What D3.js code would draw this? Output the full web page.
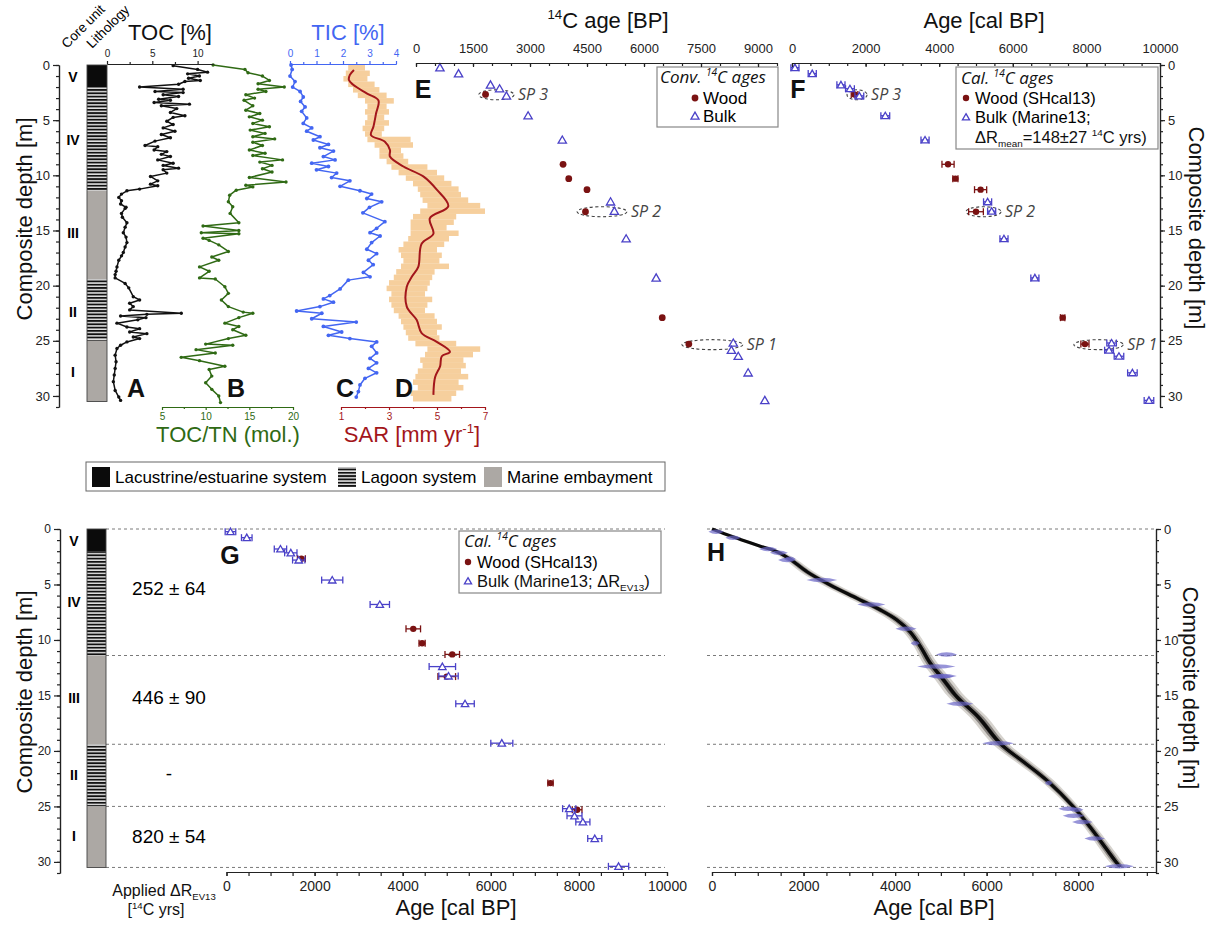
<!DOCTYPE html>
<html>
<head>
<meta charset="utf-8">
<script src="https://cdn.jsdelivr.net/npm/d3@7"></script>
<style>
  body { margin: 0; background: #fff; }
  svg { font-family: "Liberation Sans", Arial, Helvetica, sans-serif; }
</style>
</head>
<body>
<svg id="fig" width="1219" height="925"></svg>
<script>
// ---------------- Core units and lithology ----------------
const lithTop  = [0, 2.0, 11.4, 19.4, 25.0];
const lithBase = [2.0, 11.4, 19.4, 25.0, 30.5];
const lithType = ["lac", "lag", "mar", "lag", "mar"];
const unitNames = ["V", "IV", "III", "II", "I"];
const unitLabelDepthTop = [1.1, 6.8, 15.2, 22.4, 27.8];
const unitLabelDepthBot = [1.1, 6.6, 15.2, 22.2, 27.7];
const unitBounds = [0, 11.4, 19.4, 25.0, 30.5];
const appliedDR = ["252 ± 64", "446 ± 90", "-", "820 ± 54"];
const appliedDRDepth = [5.3, 15.1, 22.0, 27.7];

// ---------------- Geochemistry (depth in m) ----------------
const tocDepth = [0.06,0.4,0.65,0.8,1.0,1.2,1.4,1.5,1.75,2.0,2.2,2.4,2.5,2.7,2.85,3.1,3.2,3.4,3.55,3.7,3.95,4.3,4.6,4.75,5.1,5.4,5.7,6.0,6.3,6.6,6.9,7.3,7.4,7.7,7.85,8.1,8.3,8.6,8.9,9.1,9.35,9.5,9.8,10.1,10.5,10.8,10.95,11.25,11.4,11.7,12.0,12.3,12.6,12.9,13.0,13.45,13.8,14.3,14.7,15.2,15.6,16.1,16.5,17.0,17.3,17.7,18.3,18.7,19.0,19.3,19.8,20.2,21.0,21.3,21.6,21.9,22.2,22.5,22.6,22.75,22.9,23.1,23.4,23.75,23.9,24.2,24.35,24.65,24.8,25.1,25.4,25.7,26.3,26.9,27.5,28.1,28.7,29.5,30.1,30.4];
const tocValue = [7.3,10.0,11.1,8.9,10.2,9.0,10.3,8.6,7.9,3.6,8.4,5.3,8.4,6.2,7.9,5.7,7.0,5.2,9.1,6.0,7.7,7.0,8.6,7.3,6.6,7.3,6.2,7.5,6.0,7.0,5.3,4.2,5.6,5.2,6.6,6.0,7.0,5.6,7.3,6.2,7.9,6.2,6.6,4.8,5.6,4.8,5.6,3.6,2.2,1.6,1.3,1.6,1.5,2.1,2.0,1.6,1.7,2.2,2.0,1.8,2.1,2.2,2.0,1.8,1.6,1.3,1.1,1.0,0.9,0.9,2.0,2.4,2.9,3.6,2.5,2.9,2.5,8.2,4.4,1.5,4.3,3.4,1.1,2.2,3.6,2.5,4.4,2.9,3.6,2.2,1.5,1.1,0.9,1.0,0.9,0.8,0.7,0.9,1.3,1.5];

const cnDepth = [0,0.4,0.7,1.0,1.4,1.7,2.0,2.2,2.4,2.7,3.0,3.2,3.7,4.1,4.4,4.7,5.0,5.3,5.6,5.9,6.2,6.5,6.7,7.0,7.3,7.7,8.0,8.2,8.6,8.8,9.1,9.4,9.7,10.2,10.6,10.9,11.05,11.35,11.8,12.4,12.85,13.45,14.3,14.6,15.0,15.2,15.3,15.7,15.9,16.3,16.9,17.4,17.7,18.3,18.7,19.3,19.4,20.1,20.7,21.3,21.9,22.4,22.5,22.9,23.4,23.7,24.0,24.5,24.8,25.3,25.4,25.8,26.1,26.5,26.8,27.3,27.6,28.2,28.8,29.4,30.0,30.6];
const cnValue = [10.85,14.5,14.85,16.5,17.3,16.0,19.0,16.0,16.9,14.6,15.6,14.4,15.4,14.6,16.2,15.0,16.5,15.4,17.3,15.1,16.8,15.4,17.9,15.4,16.5,15.0,16.8,15.4,18.8,16.2,17.6,16.5,17.6,15.0,19.2,14.6,15.4,13.5,12.75,12.6,13.1,12.8,13.8,9.7,13.8,9.5,13.8,9.7,10.4,11.5,12.6,10.7,11.5,9.3,10.4,9.3,11.1,12.2,12.6,11.8,12.6,14.3,15.4,13.8,12.2,13.8,13.1,14.6,12.6,10.0,13.1,8.9,11.1,7.2,9.3,12.2,10.4,10.7,10.0,10.7,11.5,11.7];

const ticDepth = [0,0.4,1.0,1.5,2.0,2.4,2.9,3.3,3.8,4.2,4.8,5.3,5.7,6.0,6.5,6.8,7.2,7.5,7.8,8.3,8.6,8.9,9.2,9.5,9.8,10.2,10.5,11.0,11.4,11.7,12.1,12.4,12.9,13.4,14.2,14.8,15.2,15.5,16.1,16.7,17.1,17.7,18.1,18.8,19.2,19.5,20.3,20.9,21.2,21.5,21.9,22.3,22.5,23.0,23.3,23.7,24.2,24.5,24.8,25.1,25.5,26.1,26.6,27.0,27.5,27.9,28.4,29.0,29.6,30.1];
const ticValue = [0.04,0.08,0.0,0.19,0.1,0.38,0.5,0.4,0.57,0.44,0.63,0.5,0.82,0.63,1.13,0.88,1.45,1.13,1.64,1.26,1.7,0.82,1.45,1.0,1.76,1.57,2.26,1.89,2.64,3.08,2.9,3.46,3.0,2.75,3.58,3.27,3.02,3.4,3.08,2.9,3.27,2.96,3.14,2.77,3.02,2.2,1.89,1.5,1.26,1.64,1.13,0.25,1.2,0.82,2.5,1.26,1.95,1.45,2.26,3.27,3.08,3.27,3.02,3.27,2.96,3.27,2.83,2.64,2.58,2.5];

// Sediment accumulation rate: running median and per-interval range
const sarDepth = [0.45,0.9,1.36,1.8,2.57,3.2,4.4,5.6,6.35,6.95,7.7,8.3,9.2,10.1,11.3,12.8,13.9,15.3,16.2,18.3,19.2,20.1,21.9,23.1,24.3,25.1,26.0,26.4,27.3,28.3,29.9];
const sarMedian = [1.54,1.37,1.33,1.51,2.07,2.56,2.46,2.35,2.25,2.83,3.04,3.04,3.6,4.43,4.99,5.47,4.7,4.85,4.36,4.22,3.95,3.74,3.74,4.15,4.36,4.99,5.54,5.2,5.13,4.92,4.85];
const sarRangeDepth = [0.25,0.75,1.25,1.75,2.25,2.75,3.25,3.75,4.25,4.75,5.25,5.75,6.25,6.75,7.25,7.75,8.25,8.75,9.25,9.75,10.25,10.75,11.25,11.75,12.25,12.75,13.25,13.75,14.25,14.75,15.25,15.75,16.25,16.75,17.25,17.75,18.25,18.75,19.25,19.75,20.25,20.75,21.25,21.75,22.25,22.75,23.25,23.75,24.25,24.75,25.25,25.75,26.25,26.75,27.25,27.75,28.25,28.75,29.25,29.75,30.25];
const sarLow  = [1.3,1.2,1.1,1.3,1.5,1.7,2.0,2.1,2.0,2.1,2.0,1.9,2.0,2.1,2.4,2.6,2.6,2.9,3.1,3.4,3.7,4.0,4.2,4.3,4.4,4.6,4.3,4.0,3.9,3.9,3.9,3.8,3.6,3.4,3.5,3.6,3.5,3.3,3.2,3.0,2.9,3.1,3.0,3.1,3.2,3.4,3.5,3.6,3.7,3.8,4.1,4.6,4.5,4.3,4.4,4.2,4.1,4.0,4.2,3.9,4.0];
const sarHigh = [2.0,2.2,2.1,2.4,2.6,2.9,3.2,2.9,3.0,2.8,3.0,2.8,2.7,3.9,4.0,3.5,3.6,3.8,4.6,5.0,5.3,5.6,5.9,6.0,6.3,6.8,7.0,5.8,5.7,5.4,5.9,5.5,5.3,5.0,5.2,5.1,5.5,4.9,4.8,4.7,4.6,4.5,4.8,4.6,4.5,4.9,5.0,5.2,5.0,5.1,5.8,6.8,6.5,6.1,6.2,6.0,6.3,5.9,6.1,5.8,5.6];

// ---------------- Radiocarbon dates ----------------
const bulkDepth   = [0.24,0.78,1.8,2.15,2.8,4.6,6.8,12.4,13.25,15.75,19.3,25.2,25.85,26.4,27.9,30.4];
const bulkConv    = [630,1120,1960,2200,2380,2950,3850,5120,5220,5530,6320,8350,8300,8480,8740,9180];
const bulkCalF    = [80,550,1330,1575,1830,2535,3615,5315,5425,5760,6600,8685,8615,8885,9250,9700];
const bulkCalFErr = [110,110,110,120,120,120,110,110,110,110,110,130,120,130,130,130];
const bulkCalG    = [90,460,1225,1460,1640,2400,3480,4900,5040,5415,6250,7780,7900,8090,8360,8900];
const bulkCalGErr = [120,120,140,140,140,240,220,300,220,210,250,150,170,160,160,230];
const woodDepth   = [2.67,9.0,10.3,11.3,13.3,22.9,25.3];
const woodConv    = [1830,3870,4020,4500,4460,6480,7180];
const woodCal     = [1700,4240,4440,5125,5000,7355,7960];
const woodCalErr  = [90,165,70,165,200,60,110];

// Sample pairs (wood vs. bulk at the same level)
const spLabel = ["SP 3", "SP 2", "SP 1"];
const spDepth = [2.7, 13.3, 25.35];
const spConvRange = [[1650, 2580], [4240, 5550], [7000, 8600]];
const spCalRange  = [[1495, 2040], [4730, 5680], [7660, 9000]];

// ---------------- Age-depth model ----------------
const modelDepth = [0,0.4,0.94,1.55,2.05,2.73,3.85,5.05,6.25,7.3,8.2,9.3,10.6,12.1,13.6,15.15,16.95,19.35,21.0,22.65,25.05,26.85,30.1,30.45];
const modelAge   = [0,255,620,1055,1420,1710,2075,2585,3170,3680,4040,4335,4555,4770,5060,5355,5820,6300,6810,7315,7900,8260,8845,8920];
const modelErr   = [20,60,90,110,120,130,150,170,180,180,170,150,140,160,180,190,190,180,170,150,120,130,140,120];

// ---------------- Tick values ----------------
const depthMajor = [0,5,10,15,20,25,30];
const depthMinor = d3.range(0, 32, 1);
const convMajor = [0,1500,3000,4500,6000,7500,9000];
const convMinor = d3.range(0, 9501, 500);
const calMajor = [0,2000,4000,6000,8000,10000];
const calMinor = d3.range(0, 10001, 500);
const calMajorH = [0,2000,4000,6000,8000];
const calMinorH = d3.range(0, 9701, 500);

// ---------------- Styling ----------------
const C = {
  toc: "#111111", cn: "#2f6a14", tic: "#4366f2", sar: "#a3161b", sarBand: "#f2ba74",
  wood: "#7a1212", bulk: "#4a41c8", axis: "#222", dash: "#7a7a7a"
};
const FONT = '"Liberation Sans", Arial, Helvetica, sans-serif';
const ITAL = '"Open Sans", "Liberation Sans", sans-serif';

const svg = d3.select("#fig");
const defs = svg.append("defs");
const pat = defs.append("pattern").attr("id", "lagoon")
  .attr("patternUnits", "userSpaceOnUse").attr("width", 8).attr("height", 3.3);
pat.append("rect").attr("width", 8).attr("height", 3.3).attr("fill", "#e2e2e2");
pat.append("rect").attr("width", 8).attr("height", 1.8).attr("fill", "#111");
const lithFill = { lac: "#0b0b0b", lag: "url(#lagoon)", mar: "#aca8a4" };

// ---------------- Scales ----------------
const yTop = d3.scaleLinear().domain([0, 31]).range([65, 407]);
const yBot = d3.scaleLinear().domain([0, 31]).range([529, 873]);
const xTOC = d3.scaleLinear().domain([0, 11.7]).range([107, 213]);
const xCN  = d3.scaleLinear().domain([5, 20]).range([162, 293]);
const xTIC = d3.scaleLinear().domain([0, 4]).range([290, 396]);
const xSAR = d3.scaleLinear().domain([1, 7]).range([341, 485]);
const xE = d3.scaleLinear().domain([0, 9500]).range([416, 777]);
const xF = d3.scaleLinear().domain([0, 10000]).range([792, 1160]);
const xG = d3.scaleLinear().domain([0, 10000]).range([226.5, 667]);
const xH = d3.scaleLinear().domain([0, 9700]).range([712, 1156]);

// ---------------- Helpers ----------------
function rich(g, x, y, parts, opt) {
  const t = g.append("text").attr("x", x).attr("y", y)
    .attr("font-size", opt.size).attr("fill", opt.fill || "#111")
    .attr("text-anchor", opt.anchor || "start")
    .attr("font-family", opt.family || FONT);
  if (opt.italic) t.attr("font-style", "italic");
  if (opt.weight) t.attr("font-weight", opt.weight);
  if (opt.transform) t.attr("transform", opt.transform);
  let shift = 0;
  parts.forEach(p => {
    const part = typeof p === "string" ? { t: p } : p;
    let target = 0, fs = null;
    if (part.sup) { target = -0.4 * opt.size; fs = opt.size * 0.6; }
    else if (part.sub) { target = 0.22 * opt.size; fs = opt.size * 0.6; }
    const s = t.append("tspan").text(part.t).attr("dy", target - shift);
    if (fs) s.attr("font-size", fs);
    shift = target;
  });
  return t;
}

function drawAxis(axisFn, scale, tx, ty, majors, minors, o) {
  const make = (vals, size, labels) => {
    const ax = axisFn(scale).tickValues(vals).tickSizeInner(size).tickSizeOuter(0)
      .tickPadding(o.pad == null ? 3 : o.pad)
      .tickFormat(labels ? (o.fmt || (d => d)) : "");
    const g = svg.append("g").attr("transform", `translate(${tx},${ty})`).call(ax);
    g.select(".domain").attr("stroke", o.color).attr("stroke-width", o.lw || 1.2);
    g.selectAll(".tick line").attr("stroke", o.color).attr("stroke-width", o.lw || 1.2);
    g.selectAll(".tick text").attr("fill", o.tcolor || o.color)
      .attr("font-size", o.fs).attr("font-family", FONT);
    return g;
  };
  if (minors) make(minors, o.minor, false);
  make(majors, o.major, true);
}

function column(yS, x0, x1) {
  const g = svg.append("g");
  lithTop.forEach((t, i) => {
    g.append("rect").attr("x", x0).attr("width", x1 - x0)
      .attr("y", yS(t)).attr("height", yS(lithBase[i]) - yS(t))
      .attr("fill", lithFill[lithType[i]]);
  });
  g.append("rect").attr("x", x0).attr("width", x1 - x0)
    .attr("y", yS(0)).attr("height", yS(lithBase[lithBase.length - 1]) - yS(0))
    .attr("fill", "none").attr("stroke", "#444").attr("stroke-width", 0.9);
}

function curve(xs, ys, xS, yS, color, r) {
  const pts = xs.map((v, i) => [xS(v), yS(ys[i])]);
  svg.append("path").attr("d", d3.line()(pts)).attr("fill", "none")
    .attr("stroke", color).attr("stroke-width", 1.5).attr("stroke-linejoin", "round");
  svg.append("g").selectAll("circle").data(pts).join("circle")
    .attr("cx", d => d[0]).attr("cy", d => d[1]).attr("r", r).attr("fill", color);
}

const tri = d3.symbol().type(d3.symbolTriangle);
function bulkMark(g, x, y, size) {
  g.append("path").attr("d", tri.size(size)()).attr("transform", `translate(${x},${y + 0.8})`)
    .attr("fill", "#fff").attr("stroke", C.bulk).attr("stroke-width", 1.3);
}
function errBar(g, x0, x1, y, color) {
  g.append("line").attr("x1", x0).attr("x2", x1).attr("y1", y).attr("y2", y)
    .attr("stroke", color).attr("stroke-width", 1.3);
  [x0, x1].forEach(x => g.append("line").attr("x1", x).attr("x2", x)
    .attr("y1", y - 3.5).attr("y2", y + 3.5).attr("stroke", color).attr("stroke-width", 1.3));
}
function spEllipse(g, range, depth, xS, yS, label) {
  const cx = (xS(range[0]) + xS(range[1])) / 2, rx = (xS(range[1]) - xS(range[0])) / 2;
  g.append("ellipse").attr("cx", cx).attr("cy", yS(depth)).attr("rx", rx).attr("ry", 5)
    .attr("fill", "none").attr("stroke", "#444").attr("stroke-width", 1.1)
    .attr("stroke-dasharray", "3,2.5");
  g.append("text").attr("x", xS(range[1]) + 4).attr("y", yS(depth) + 5.5)
    .attr("font-family", ITAL).attr("font-style", "italic").attr("font-size", 16)
    .attr("fill", "#444").text(label);
}
function panelLetter(x, y, s) {
  svg.append("text").attr("x", x).attr("y", y).attr("text-anchor", "middle")
    .attr("font-size", 25).attr("font-weight", "bold").attr("fill", "#111").text(s);
}

// ================= Top row: core log and proxies =================
column(yTop, 87, 107);
unitNames.forEach((u, i) => svg.append("text").attr("x", 73).attr("y", yTop(unitLabelDepthTop[i]) + 5)
  .attr("text-anchor", "middle").attr("font-size", 14).attr("font-weight", "bold").text(u));
drawAxis(d3.axisLeft, yTop, 59, 0, depthMajor, depthMinor, { color: C.axis, major: 6, minor: 3, fs: 13, pad: 3 });
rich(svg, 32, 219, ["Composite depth [m]"], { size: 22, anchor: "middle", transform: "rotate(-90,32,219)" });
svg.append("text").attr("x", 67).attr("y", 49).attr("font-size", 13.5)
  .attr("transform", "rotate(-45,67,49)").text("Core unit");
svg.append("text").attr("x", 92).attr("y", 49).attr("font-size", 13.5)
  .attr("transform", "rotate(-45,92,49)").text("Lithology");

// SAR range and median
const sarStep = yTop(0.5) - yTop(0);
svg.append("g").selectAll("rect").data(sarRangeDepth).join("rect")
  .attr("x", (d, i) => xSAR(sarLow[i])).attr("width", (d, i) => xSAR(sarHigh[i]) - xSAR(sarLow[i]))
  .attr("y", d => yTop(d) - sarStep / 2).attr("height", sarStep)
  .attr("fill", C.sarBand).attr("opacity", 0.7);
svg.append("path").attr("d", d3.line().curve(d3.curveCatmullRom)(sarDepth.map((d, i) => [xSAR(sarMedian[i]), yTop(d)])))
  .attr("fill", "none").attr("stroke", C.sar).attr("stroke-width", 2);

curve(tocValue, tocDepth, xTOC, yTop, C.toc, 1.7);
curve(cnValue, cnDepth, xCN, yTop, C.cn, 1.7);
curve(ticValue, ticDepth, xTIC, yTop, C.tic, 1.9);

drawAxis(d3.axisTop, xTOC, 0, 64, [0, 5, 10], [2.5, 7.5], { color: C.axis, major: 3, minor: 2, fs: 10, pad: 4 });
rich(svg, 170, 40, ["TOC [%]"], { size: 22, anchor: "middle" });
drawAxis(d3.axisTop, xTIC, 0, 64, [0, 1, 2, 3, 4], [0.5, 1.5, 2.5, 3.5], { color: C.tic, major: 3, minor: 2, fs: 10, pad: 4 });
rich(svg, 348, 40, ["TIC [%]"], { size: 22, anchor: "middle", fill: C.tic });
drawAxis(d3.axisBottom, xCN, 0, 407, [5, 10, 15, 20], [7.5, 12.5, 17.5], { color: C.cn, major: 3, minor: 2, fs: 10, pad: 3 });
rich(svg, 228, 442, ["TOC/TN (mol.)"], { size: 22, anchor: "middle", fill: C.cn });
drawAxis(d3.axisBottom, xSAR, 0, 407, [1, 3, 5, 7], [2, 4, 6], { color: C.sar, major: 3, minor: 2, fs: 10, pad: 3 });
rich(svg, 412, 442, ["SAR [mm yr", { t: "-1", sup: true }, "]"], { size: 22, anchor: "middle", fill: C.sar });

panelLetter(136, 397, "A");
panelLetter(236, 397, "B");
panelLetter(345, 397, "C");
panelLetter(404, 397, "D");

// ================= E: conventional ages =================
const gE = svg.append("g");
drawAxis(d3.axisTop, xE, 0, 63, convMajor, convMinor, { color: C.axis, major: -4, minor: -3, fs: 13, pad: 10 });
rich(svg, 608, 28, [{ t: "14", sup: true }, "C age [BP]"], { size: 22, anchor: "middle" });
spLabel.forEach((s, i) => spEllipse(gE, spConvRange[i], spDepth[i], xE, yTop, s));
woodDepth.forEach((d, i) => gE.append("circle").attr("cx", xE(woodConv[i])).attr("cy", yTop(d)).attr("r", 3.4).attr("fill", C.wood));
bulkDepth.forEach((d, i) => bulkMark(gE, xE(bulkConv[i]), yTop(d), 30));
panelLetter(423, 98, "E");
// legend E
gE.append("rect").attr("x", 657).attr("y", 67).attr("width", 121).attr("height", 60)
  .attr("fill", "#fff").attr("stroke", "#888").attr("stroke-width", 1.2);
rich(gE, 660, 83, ["Conv. ", { t: "14", sup: true }, "C ages"], { size: 17, italic: true, family: ITAL });
gE.append("circle").attr("cx", 695).attr("cy", 98).attr("r", 3.4).attr("fill", C.wood);
gE.append("text").attr("x", 703).attr("y", 104).attr("font-size", 17).text("Wood");
bulkMark(gE, 695, 116, 28);
gE.append("text").attr("x", 703).attr("y", 122).attr("font-size", 17).text("Bulk");

// ================= F: calibrated ages =================
const gF = svg.append("g");
drawAxis(d3.axisTop, xF, 0, 63, calMajor, calMinor, { color: C.axis, major: -4, minor: -3, fs: 13, pad: 10 });
drawAxis(d3.axisRight, yTop, 1160, 0, depthMajor, depthMinor, { color: C.axis, major: 5, minor: 3, fs: 13, pad: 3 });
rich(svg, 984, 28, ["Age [cal BP]"], { size: 22, anchor: "middle" });
rich(svg, 1189, 228, ["Composite depth [m]"], { size: 22, anchor: "middle", transform: "rotate(90,1189,228)" });
spLabel.forEach((s, i) => spEllipse(gF, spCalRange[i], spDepth[i], xF, yTop, s));
woodDepth.forEach((d, i) => {
  errBar(gF, xF(woodCal[i] - woodCalErr[i]), xF(woodCal[i] + woodCalErr[i]), yTop(d), C.wood);
  gF.append("circle").attr("cx", xF(woodCal[i])).attr("cy", yTop(d)).attr("r", 3.2).attr("fill", C.wood);
});
bulkDepth.forEach((d, i) => {
  errBar(gF, xF(bulkCalF[i] - bulkCalFErr[i]), xF(bulkCalF[i] + bulkCalFErr[i]), yTop(d), C.bulk);
  bulkMark(gF, xF(bulkCalF[i]), yTop(d), 24);
});
panelLetter(798, 98, "F");
gF.append("rect").attr("x", 956).attr("y", 67).attr("width", 202).attr("height", 82)
  .attr("fill", "#fff").attr("stroke", "#888").attr("stroke-width", 1.2);
rich(gF, 961, 84, ["Cal. ", { t: "14", sup: true }, "C ages"], { size: 17, italic: true, family: ITAL });
gF.append("circle").attr("cx", 966).attr("cy", 98).attr("r", 3.2).attr("fill", C.wood);
gF.append("text").attr("x", 975).attr("y", 104).attr("font-size", 16.5).text("Wood (SHcal13)");
bulkMark(gF, 966, 117, 22);
gF.append("text").attr("x", 975).attr("y", 123).attr("font-size", 16.5).text("Bulk (Marine13;");
rich(gF, 975, 143, ["ΔR", { t: "mean", sub: true }, "=148±27 ", { t: "14", sup: true }, "C yrs)"], { size: 16.5 });

// ================= Lithology legend =================
const gL = svg.append("g");
gL.append("rect").attr("x", 86).attr("y", 462).attr("width", 579).attr("height", 29)
  .attr("fill", "#fff").attr("stroke", "#666").attr("stroke-width", 1);
const legItems = [["lac", "Lacustrine/estuarine system", 92], ["lag", "Lagoon system", 338], ["mar", "Marine embayment", 484]];
legItems.forEach(([k, label, x]) => {
  gL.append("rect").attr("x", x).attr("y", 467).attr("width", 18).attr("height", 20).attr("fill", lithFill[k]);
  gL.append("text").attr("x", x + 23).attr("y", 483).attr("font-size", 17).text(label);
});

// ================= G: calibrated ages with unit-specific reservoir =================
const gG = svg.append("g");
unitBounds.forEach((d, i) => {
  [[106, 665], [707, 1155]].forEach(([a, b]) => gG.append("line").attr("x1", a).attr("x2", b)
    .attr("y1", yBot(d)).attr("y2", yBot(d)).attr("stroke", C.dash).attr("stroke-width", 1)
    .attr("stroke-dasharray", "3,3"));
});
column(yBot, 87, 106);
unitNames.forEach((u, i) => svg.append("text").attr("x", 74).attr("y", yBot(unitLabelDepthBot[i]) + 5)
  .attr("text-anchor", "middle").attr("font-size", 14).attr("font-weight", "bold").text(u));
appliedDR.forEach((s, i) => gG.append("text").attr("x", 169).attr("y", yBot(appliedDRDepth[i]) + 7)
  .attr("text-anchor", "middle").attr("font-size", 19).text(s));
drawAxis(d3.axisLeft, yBot, 60, 0, depthMajor, depthMinor, { color: C.axis, major: 6, minor: 3, fs: 12, pad: 3 });
drawAxis(d3.axisBottom, xG, 0, 872, calMajor, calMinor, { color: C.axis, major: 4, minor: 4, fs: 14, pad: 5 });
rich(svg, 32, 692, ["Composite depth [m]"], { size: 22, anchor: "middle", transform: "rotate(-90,32,692)" });
rich(svg, 456, 915, ["Age [cal BP]"], { size: 22, anchor: "middle" });
rich(svg, 164, 896, ["Applied ΔR", { t: "EV13", sub: true }], { size: 16, anchor: "middle" });
rich(svg, 156, 915, ["[", { t: "14", sup: true }, "C yrs]"], { size: 16, anchor: "middle" });

woodDepth.forEach((d, i) => {
  errBar(gG, xG(woodCal[i] - woodCalErr[i]), xG(woodCal[i] + woodCalErr[i]), yBot(d), C.wood);
  gG.append("circle").attr("cx", xG(woodCal[i])).attr("cy", yBot(d)).attr("r", 3.2).attr("fill", C.wood);
});
bulkDepth.forEach((d, i) => {
  errBar(gG, xG(bulkCalG[i] - bulkCalGErr[i]), xG(bulkCalG[i] + bulkCalGErr[i]), yBot(d), C.bulk);
  bulkMark(gG, xG(bulkCalG[i]), yBot(d), 24);
});
panelLetter(230, 564, "G");
gG.append("rect").attr("x", 459).attr("y", 531).attr("width", 202).attr("height", 62)
  .attr("fill", "#fff").attr("stroke", "#888").attr("stroke-width", 1.2);
rich(gG, 464, 547, ["Cal. ", { t: "14", sup: true }, "C ages"], { size: 17, italic: true, family: ITAL });
gG.append("circle").attr("cx", 468).attr("cy", 562).attr("r", 3.2).attr("fill", C.wood);
gG.append("text").attr("x", 477).attr("y", 568).attr("font-size", 16.5).text("Wood (SHcal13)");
bulkMark(gG, 468, 581, 22);
rich(gG, 477, 587, ["Bulk (Marine13; ΔR", { t: "EV13", sub: true }, ")"], { size: 16.5 });

// ================= H: age-depth model =================
const gH = svg.append("g");
const band = k => d3.area().curve(d3.curveCatmullRom)
  .y((d, i) => yBot(d))
  .x0((d, i) => xH(modelAge[i] - k * modelErr[i]))
  .x1((d, i) => xH(modelAge[i] + k * modelErr[i]));
gH.append("path").attr("d", band(1.0)(modelDepth)).attr("fill", "#cfcbc6").attr("opacity", 0.85);
gH.append("path").attr("d", band(0.6)(modelDepth)).attr("fill", "#8c8884");
gH.append("path").attr("d", band(0.3)(modelDepth)).attr("fill", "#3a3836");
gH.append("path").attr("d", d3.line().curve(d3.curveCatmullRom)(modelDepth.map((d, i) => [xH(modelAge[i]), yBot(d)])))
  .attr("fill", "none").attr("stroke", "#0b0b0b").attr("stroke-width", 3.2);
function lens(age, err, depth) {
  const a = xH(age - 1.4 * err), b = xH(age + 1.4 * err), m = xH(age), y = yBot(depth);
  return `M${a},${y} Q${m},${y - 4.5} ${b},${y} Q${m},${y + 4.5} ${a},${y} Z`;
}
bulkDepth.forEach((d, i) => gH.append("path").attr("d", lens(bulkCalG[i], bulkCalGErr[i], d))
  .attr("fill", "#6b66c8").attr("opacity", 0.7));
woodDepth.forEach((d, i) => gH.append("path").attr("d", lens(woodCal[i], woodCalErr[i], d))
  .attr("fill", "#6b66c8").attr("opacity", 0.7));
drawAxis(d3.axisBottom, xH, 0, 872, calMajorH, calMinorH, { color: C.axis, major: 4, minor: 4, fs: 14, pad: 5 });
drawAxis(d3.axisRight, yBot, 1156, 0, depthMajor, depthMinor, { color: C.axis, major: 5, minor: 3, fs: 13, pad: 3 });
rich(svg, 934, 915, ["Age [cal BP]"], { size: 22, anchor: "middle" });
rich(svg, 1183, 688, ["Composite depth [m]"], { size: 22, anchor: "middle", transform: "rotate(90,1183,688)" });
panelLetter(716, 561, "H");
</script>
</body>
</html>
